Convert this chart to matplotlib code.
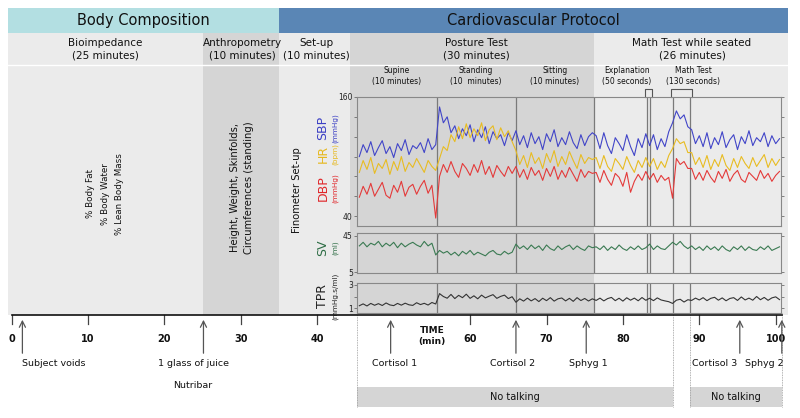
import matplotlib
matplotlib.use("Agg")
import matplotlib.pyplot as plt
import numpy as np
from matplotlib.patches import Rectangle

# ---------------- data ----------------
tick_minutes = [0, 10, 20, 30, 40, 60, 70, 80, 90, 100]
tick_labels = ["0", "10", "20", "30", "40", "60", "70", "80", "90", "100"]

event_names = ["Subject voids", "1 glass of juice", "Cortisol 1", "Cortisol 2",
               "Sphyg 1", "Cortisol 3", "Sphyg 2"]
event_minutes = [1.4, 25.1, 49.6, 66.0, 75.2, 95.3, 100.8]

phase_lines = [55.7, 66.0, 76.2, 83.2, 83.5, 86.6, 88.8]

# beat series sampled every half minute from 45.5 to 100.5 min
sbp = [100, 112, 104, 115, 101, 109, 116, 103, 110, 99, 113, 106, 117, 102, 111, 108, 114, 104, 118, 107, 112,
       150, 134, 140, 124, 131, 118, 128, 121, 132, 115, 127, 119, 130, 113, 125, 118, 122, 111, 124, 116,
       126, 112, 121, 109, 124, 113, 120, 107, 123, 115, 127, 110, 119, 112, 125, 114, 108, 122, 111, 120, 124,
       121, 108, 124, 111, 103, 119, 113, 106, 122, 110, 101, 118, 109, 123,
       111, 122, 107, 118, 110, 125,
       134, 146, 138, 142, 130,
       127, 113, 121, 110, 124, 108, 119, 112, 125, 109, 117, 122, 107, 120, 113, 126, 111, 119, 115, 124, 110, 121, 113, 118]
hr = [84, 96, 87, 99, 83, 93, 88, 97, 82, 95, 86, 100, 85, 94, 89, 98, 91, 84, 96, 90, 86,
      98, 110, 106, 122, 115, 130, 118, 133, 119, 128, 121, 134, 116, 127, 131, 117, 129, 120, 126, 115,
      106, 92, 101, 89, 104, 93, 99, 88, 103, 94, 106, 90, 100, 92, 105, 96, 88, 102, 93, 99, 97,
      99, 88, 101, 90, 85, 98, 93, 87, 100, 91, 84, 96, 89, 99,
      90, 98, 87, 95, 89, 101,
      108, 118, 113, 115, 104,
      104, 92, 99, 89, 101, 87, 97, 90, 102, 91, 86, 98, 89, 100, 93, 88, 99, 90, 96, 102, 89, 98, 91, 97]
dbp = [59, 70, 62, 73, 60, 67, 74, 61, 58, 71, 64, 75, 60, 69, 72, 62, 70, 76, 63, 71, 38,
       80, 92, 84, 95, 85, 79, 93, 88, 81, 92, 84, 96, 82, 90, 79, 91, 85, 80, 90, 83,
       90, 79, 87, 77, 89, 81, 86, 76, 88, 80, 90, 77, 86, 79, 89, 82, 75, 87, 79, 85, 83,
       84, 74, 86, 77, 71, 83, 79, 70, 84, 64, 75, 82, 76, 85,
       77, 83, 74, 81, 76, 79,
       58, 98, 92, 95, 88,
       88, 77, 84, 76, 86, 79, 74, 85, 78, 87, 75, 82, 86, 77, 74, 84, 80, 76, 86, 78, 83, 75, 81, 85]
sv = [34, 38, 33, 37, 35, 39, 33, 37, 34, 38, 32, 37, 33, 36, 38, 35, 33, 39, 34, 37, 24,
      29, 26, 28, 24, 27, 23, 28, 25, 29, 24, 27, 25, 23, 27, 29, 25, 24, 28, 25, 27,
      36, 31, 34, 30, 35, 31, 34, 29, 35, 31, 29, 34, 30, 33, 35, 30, 34, 31, 29, 34, 32,
      33, 30, 34, 29, 33, 30, 35, 31, 29, 33, 30, 34, 30, 32,
      36, 30, 34, 31, 30, 34,
      38, 35, 39, 34, 31,
      34, 30, 33, 29, 34, 30, 33, 29, 34, 30, 28, 33, 30, 34, 29, 33, 30, 29, 33, 30, 34, 29, 31, 33]
tpr = [1.20, 1.36, 1.18, 1.40, 1.24, 1.38, 1.22, 1.44, 1.27, 1.21, 1.40, 1.25, 1.42, 1.28, 1.23, 1.46, 1.30, 1.41, 1.26, 1.48, 1.35,
       2.25, 2.00, 1.85, 2.18, 1.82, 2.10, 1.90, 2.20, 1.84, 2.06, 1.80, 2.12, 1.88, 2.03, 2.16, 1.84, 2.01, 2.12, 1.82, 1.98,
       1.50, 1.80, 1.60, 1.86, 1.62, 1.82, 1.56, 1.85, 1.64, 1.90, 1.60, 1.80, 1.87, 1.62, 1.84, 1.58, 1.90, 1.65, 1.83, 1.61, 1.80,
       1.66, 1.86, 1.62, 1.82, 1.92, 1.64, 1.85, 1.60, 1.89, 1.68, 1.86, 1.63, 1.91, 1.67,
       1.85, 1.64, 1.88, 1.70, 1.62, 1.55,
       1.40, 1.68, 1.76, 1.52, 1.72,
       1.66, 1.86, 1.70, 1.90, 1.64, 1.84, 1.93, 1.68, 1.88, 1.63, 1.83, 1.90, 1.66, 1.96, 1.70, 1.86, 1.68, 2.00, 1.72, 1.92, 1.67, 1.88, 1.97, 1.73]
sample_start, sample_end = 45.5, 100.5

# ---------------- layout ----------------
W, H = 800, 418
PX0, PXM = 11.7, 7.64          # pixel of minute 0, pixels per minute


def tx(px):
    return (px - PX0) / PXM


fig = plt.figure(figsize=(8, 4.18), dpi=100)
bg = fig.add_axes([0, 0, 1, 1])
bg.set_xlim(tx(0), tx(W))
bg.set_ylim(H, 0)
bg.axis("off")

LIGHT, DARK = "#ebebeb", "#d5d5d5"
left_edge, right_edge = tx(8), tx(788)

# header band
bg.add_patch(Rectangle((left_edge, 8), 35 - left_edge, 25, color="#b3dfe2", lw=0))
bg.add_patch(Rectangle((35, 8), right_edge - 35, 25, color="#5a86b5", lw=0))
bg.text((left_edge + 35) / 2, 20.5, "Body Composition", ha="center", va="center", fontsize=10.5, color="#111")
bg.text((35 + right_edge) / 2, 20.5, "Cardiovascular Protocol", ha="center", va="center", fontsize=10.5, color="#111")

# phase background blocks
blocks = [(left_edge, 25, LIGHT), (25, 35, DARK), (35, tx(350), LIGHT), (tx(350), 76.2, DARK), (76.2, right_edge, LIGHT)]
for a, b, c in blocks:
    bg.add_patch(Rectangle((a, 33), b - a, 282, color=c, lw=0, zorder=0))
bg.plot([left_edge, right_edge], [64.5, 64.5], color="white", lw=1, zorder=1)

row2 = [(tx(105), "Bioimpedance\n(25 minutes)"), (tx(242), "Anthropometry\n(10 minutes)"),
        (tx(316), "Set-up\n(10 minutes)"), (tx(476), "Posture Test\n(30 minutes)"),
        (tx(692), "Math Test while seated\n(26 minutes)")]
for x, s in row2:
    bg.text(x, 49, s, ha="center", va="center", fontsize=7.5, color="#111", linespacing=1.25)

row3 = [(tx(397), "Supine\n(10 minutes)"), (tx(476), "Standing\n(10  minutes)"),
        (tx(555), "Sitting\n(10 minutes)"), (tx(627), "Explanation\n(50 seconds)"),
        (tx(693), "Math Test\n(130 seconds)")]
for x, s in row3:
    bg.text(x, 76, s, ha="center", va="center", fontsize=5.5, color="#111", linespacing=1.2)

# brackets above the panel
for a, b in [(tx(645), tx(652)), (tx(671), tx(692))]:
    bg.plot([a, a, b, b], [97, 89, 89, 97], color="#555", lw=0.8, solid_joinstyle="round")

# rotated texts
bg.text(tx(105), 194, "% Body Fat\n% Body Water\n% Lean Body Mass", rotation=90, ha="center", va="center",
        fontsize=6.3, color="#111", linespacing=1.75)
bg.text(tx(242), 188, "Height, Weight, Skinfolds,\nCircumferences (standing)", rotation=90, ha="center",
        va="center", fontsize=7.2, color="#111", linespacing=1.5)
bg.text(tx(297), 190, "Finometer Set-up", rotation=90, ha="center", va="center", fontsize=7.2, color="#111")

# signal labels
ylab = [(128, "SBP", "(mmHg)", "#3b3fc4"), (154, "HR", "(bpm)", "#e6b81e"),
        (188, "DBP", "(mmHg)", "#e0262a"), (248, "SV", "(ml)", "#2f6e46"),
        (296, "TPR", "(mmHg.s/ml)", "#222222")]
for y, a, b, c in ylab:
    bg.text(tx(323), y, a, rotation=90, ha="center", va="center", fontsize=9, color=c)
    bg.text(tx(335), y, b, rotation=90, ha="center", va="center", fontsize=5.2, color=c)

# timeline
bg.plot([0, tx(782)], [315, 315], color="#111", lw=1.2, zorder=3)
for t, lab in zip(tick_minutes, tick_labels):
    bg.plot([t, t], [315, 324], color="#444", lw=0.9)
    bg.text(t, 339, lab, ha="center", va="center", fontsize=7, fontweight="bold", color="#111")
bg.text(tx(432), 336, "TIME\n(min)", ha="center", va="center", fontsize=6.5, fontweight="bold",
        color="#111", linespacing=1.3)

label_offsets = [(0, "left"), (-10, "center"), (4, "center"), (-3, "center"),
                 (2, "center"), (-25, "center"), (-17, "center")]
for name, t, (dx, ha) in zip(event_names, event_minutes, label_offsets):
    bg.annotate("", xy=(t, 317), xytext=(t, 356),
                arrowprops=dict(arrowstyle="->", color="#555", lw=0.9, mutation_scale=11))
    bg.text(t + dx / PXM, 364, name, ha=ha, va="center", fontsize=6.8, color="#111")
bg.text(tx(193), 385, "Nutribar", ha="center", va="center", fontsize=6.8, color="#111")

# no-talking boxes and dotted guides
for a, b in [(tx(357), tx(673)), (tx(690), tx(782))]:
    bg.add_patch(Rectangle((a, 387), b - a, 20, color=DARK, lw=0))
    bg.text((a + b) / 2, 397, "No talking", ha="center", va="center", fontsize=7, color="#111")
for x in [357, 673, 690, 782]:
    bg.plot([tx(x), tx(x)], [313, 407], color="#999", lw=0.6, ls=(0, (1, 1)))

# ---------------- signal panels ----------------
minutes = np.linspace(sample_start, sample_end, len(sbp))
x0, x1 = 357, 781


def panel(top, bottom, ylim, ticks, labelled):
    ax = fig.add_axes([x0 / W, 1 - bottom / H, (x1 - x0) / W, (bottom - top) / H])
    ax.set_facecolor("none")
    ax.set_xlim(tx(x0), tx(x1))
    ax.set_ylim(*ylim)
    ax.set_xticks([])
    ax.set_yticks(ticks)
    ax.set_yticklabels([str(v) if v in labelled else "" for v in ticks])
    ax.tick_params(axis="y", length=2, width=0.5, pad=1, labelsize=5.5, colors="#555",
                   labelcolor="#222", right=True)
    for s in ax.spines.values():
        s.set_color("#888")
        s.set_linewidth(0.8)
    for t in phase_lines:
        ax.axvline(t, color="#7a7a7a", lw=0.9)
    return ax


ax1 = panel(97, 226, (30, 160), [40, 60, 80, 100, 120, 140, 160], [40, 160])
ax1.plot(minutes, sbp, color="#4145c8", lw=0.8)
ax1.plot(minutes, hr, color="#e8bc22", lw=0.8)
ax1.plot(minutes, dbp, color="#e43a3a", lw=0.8)

ax2 = panel(233, 273, (4, 48.3), [5, 45], [5, 45])
ax2.plot(minutes, sv, color="#3a7a52", lw=0.8)

ax3 = panel(283, 313, (0.57, 3.17), [1, 2, 3], [1, 3])
ax3.plot(minutes, tpr, color="#333333", lw=0.8)

fig.savefig("out.png", dpi=100)
